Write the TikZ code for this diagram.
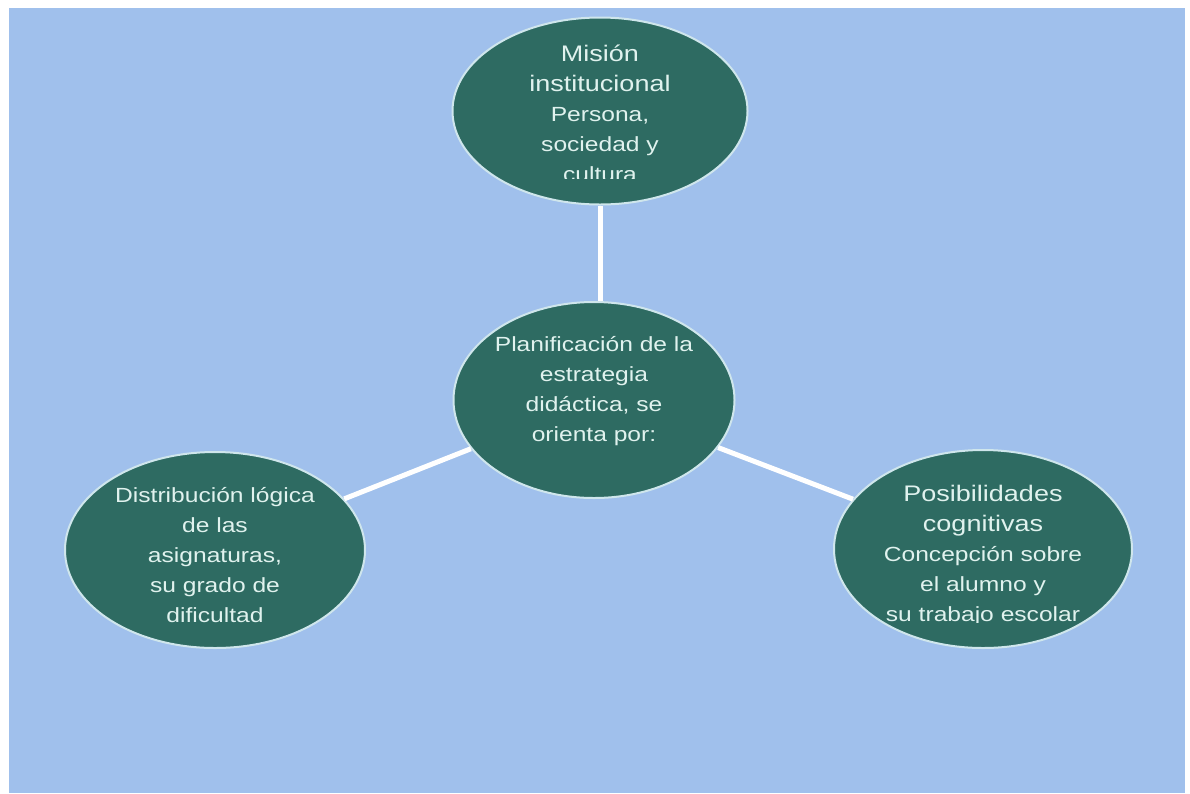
\documentclass[tikz,border=0pt]{standalone}
\usepackage{fontspec}
\setmainfont{Liberation Sans}
\usetikzlibrary{shapes.geometric}
\definecolor{bg}{HTML}{A0C0EC}
\definecolor{bubblefill}{HTML}{2E6B62}
\definecolor{txt}{HTML}{E0F2EE}
\definecolor{rim}{HTML}{CFE6EC}
\newcommand{\tfont}{\fontsize{22.5}{30}\selectfont}
\newcommand{\bfont}{\fontsize{20.5}{30}\selectfont}
\begin{document}
\begin{tikzpicture}[x=1pt,y=-1pt,
  bubble/.style={ellipse, draw=rim, line width=2pt, fill=bubblefill, inner sep=0pt},
  lbl/.style={text=txt, align=center, font=\bfont, xscale=1.2, transform shape, inner sep=0pt},
  link/.style={draw=white, line width=5pt}]
\fill[white] (0,0) rectangle (1190,793);
\fill[bg] (9,8) rectangle (1185,793);
\node[bubble, minimum width=295, minimum height=187] (m) at (600,111) {};
\node[bubble, minimum width=281, minimum height=196] (c) at (594,400) {};
\node[bubble, minimum width=300, minimum height=196] (l) at (215,550) {};
\node[bubble, minimum width=298, minimum height=198] (r) at (983,549) {};
\draw[link] (m.south) -- (m.south |- c.north);
\draw[link] (c) -- (l);
\draw[link] (c) -- (r);
\begin{scope}
\clip (450,20) rectangle (750,178);
\node[lbl] (mt) at (600,113) {\tfont Misión\\\tfont institucional\\Persona,\\sociedad y\\cultura};
\end{scope}
\node[lbl] (ct) at (594,391) {Planificación de la\\estrategia\\didáctica, se\\orienta por:};
\node[lbl] (lt) at (215,555) {Distribución lógica\\de las\\asignaturas,\\su grado de\\dificultad};
\begin{scope}
\clip (835,460) rectangle (1135,622);
\node[lbl] (rt) at (983,555) {\tfont Posibilidades\\\tfont cognitivas\\Concepción sobre\\el alumno y\\su trabajo escolar};
\end{scope}
\end{tikzpicture}
\end{document}
